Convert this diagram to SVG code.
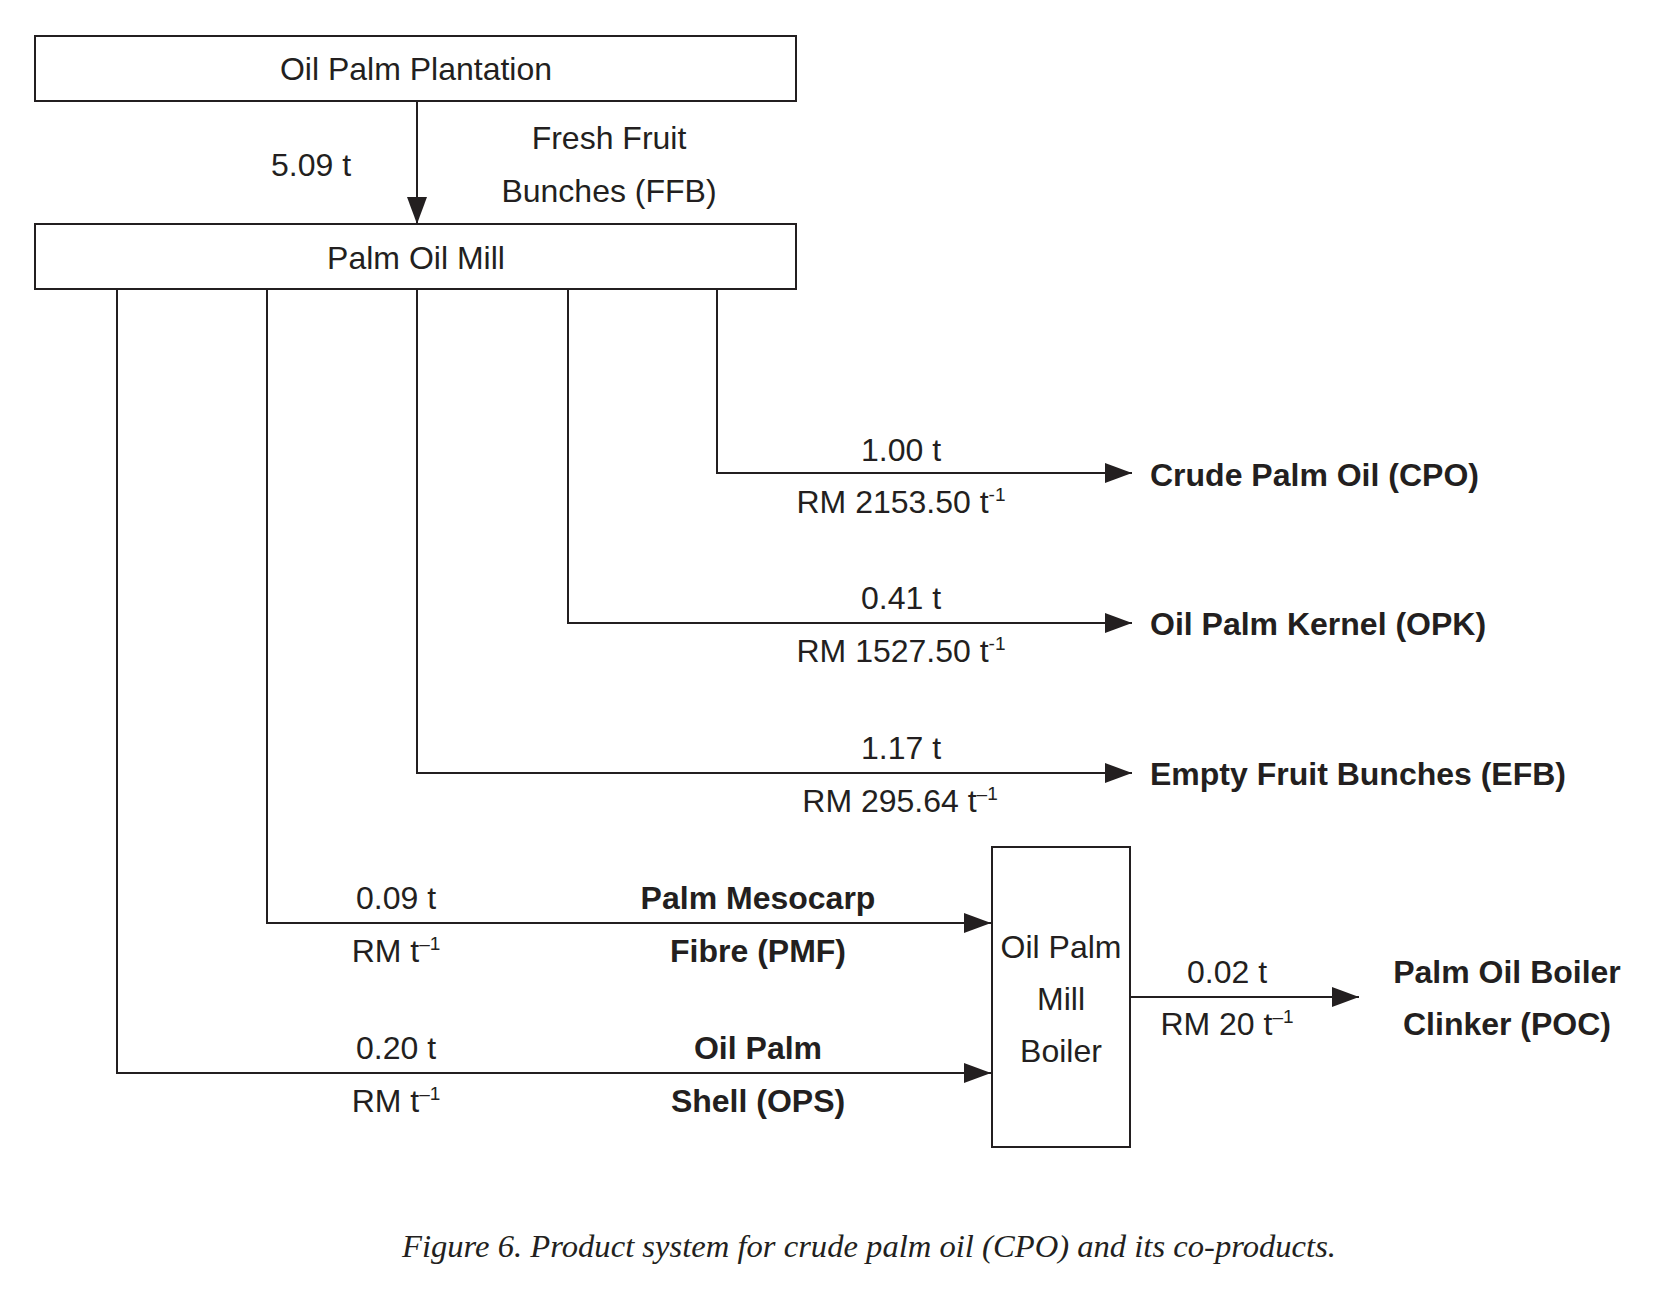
<svg xmlns="http://www.w3.org/2000/svg" width="1656" height="1296" viewBox="0 0 1656 1296">
<style>
.box{fill:#fff;stroke:#231f20;stroke-width:2}
.ln{fill:none;stroke:#231f20;stroke-width:2}
text{font-family:"Liberation Sans",Arial,sans-serif;font-size:32px;fill:#231f20}
.m{text-anchor:middle}
.b{font-weight:bold}
.sup{font-size:19px}
.cap{font-family:"Liberation Serif","Times New Roman",serif;font-style:italic;font-size:32px}
</style>
<defs>
<marker id="ah" markerUnits="userSpaceOnUse" markerWidth="28" markerHeight="22" refX="27" refY="10" orient="auto">
<path d="M0,0 L27,10 L0,20 Z" fill="#231f20"/>
</marker>
</defs>
<rect width="1656" height="1296" fill="#fff"/>
<g id="connectors">
<line class="ln" x1="417" y1="101" x2="417" y2="224" marker-end="url(#ah)"/>
<polyline class="ln" points="717,289 717,473 1132,473" marker-end="url(#ah)"/>
<polyline class="ln" points="568,289 568,623 1132,623" marker-end="url(#ah)"/>
<polyline class="ln" points="417,289 417,773 1132,773" marker-end="url(#ah)"/>
<polyline class="ln" points="267,289 267,923 991,923" marker-end="url(#ah)"/>
<polyline class="ln" points="117,289 117,1073 991,1073" marker-end="url(#ah)"/>
<line class="ln" x1="1130" y1="997" x2="1359" y2="997" marker-end="url(#ah)"/>
</g>
<g id="plantation">
<rect class="box" x="35" y="36" width="761" height="65"/>
<text class="m" x="416" y="80">Oil Palm Plantation</text>
</g>
<g id="mill">
<rect class="box" x="35" y="224" width="761" height="65"/>
<text class="m" x="416" y="269">Palm Oil Mill</text>
</g>
<g id="boiler">
<rect class="box" x="992" y="847" width="138" height="300"/>
<text class="m" x="1061" y="958">Oil Palm</text>
<text class="m" x="1061" y="1010">Mill</text>
<text class="m" x="1061" y="1062">Boiler</text>
</g>
<g id="labels">
<text class="m" x="311" y="176">5.09 t</text>
<text class="m" x="609" y="149">Fresh Fruit</text>
<text class="m" x="609" y="202">Bunches (FFB)</text>

<text class="m" x="901" y="461">1.00 t</text>
<text class="m" x="901" y="513">RM 2153.50 t<tspan class="sup" dy="-12">-1</tspan></text>
<text class="m" x="901" y="609">0.41 t</text>
<text class="m" x="901" y="662">RM 1527.50 t<tspan class="sup" dy="-12">-1</tspan></text>
<text class="m" x="901" y="759">1.17 t</text>
<text class="m" x="900" y="812">RM 295.64 t<tspan class="sup" dy="-12">–1</tspan></text>

<text class="m" x="396" y="909">0.09 t</text>
<text class="m" x="396" y="962">RM t<tspan class="sup" dy="-12">–1</tspan></text>
<text class="m" x="396" y="1059">0.20 t</text>
<text class="m" x="396" y="1112">RM t<tspan class="sup" dy="-12">–1</tspan></text>

<text class="m" x="1227" y="983">0.02 t</text>
<text class="m" x="1227" y="1035">RM 20 t<tspan class="sup" dy="-12">–1</tspan></text>
</g>
<g id="products">
<text class="b" x="1150" y="486">Crude Palm Oil (CPO)</text>
<text class="b" x="1150" y="635">Oil Palm Kernel (OPK)</text>
<text class="b" x="1150" y="785">Empty Fruit Bunches (EFB)</text>
<text class="b m" x="758" y="909">Palm Mesocarp</text>
<text class="b m" x="758" y="962">Fibre (PMF)</text>
<text class="b m" x="758" y="1059">Oil Palm</text>
<text class="b m" x="758" y="1112">Shell (OPS)</text>
<text class="b m" x="1507" y="983">Palm Oil Boiler</text>
<text class="b m" x="1507" y="1035">Clinker (POC)</text>
</g>
<text class="cap m" x="869" y="1257" textLength="934" lengthAdjust="spacingAndGlyphs">Figure 6. Product system for crude palm oil (CPO) and its co-products.</text>
</svg>
